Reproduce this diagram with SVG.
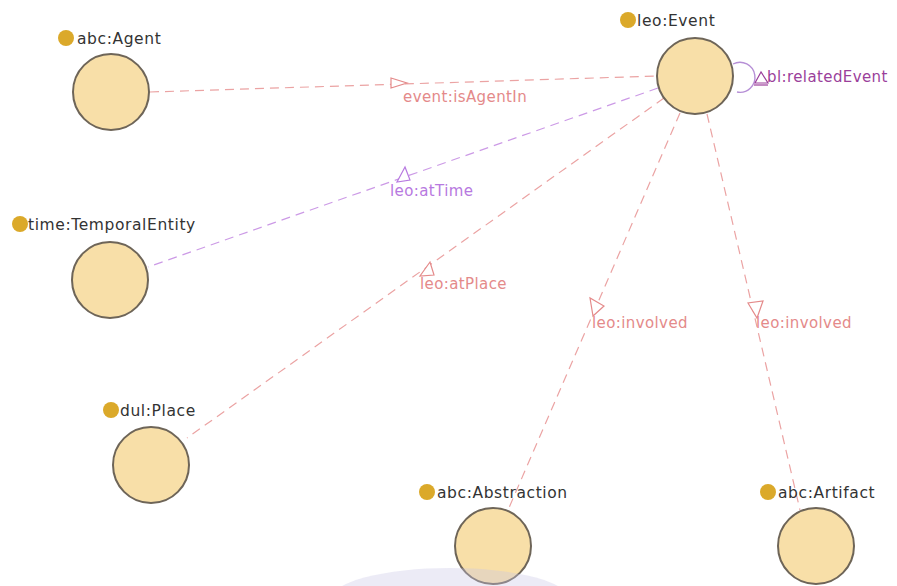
<svg xmlns="http://www.w3.org/2000/svg" width="897" height="586" viewBox="0 0 897 586">
<style>
.node{fill:#f8dfa8;stroke:#6e6558;stroke-width:2}
.dot{fill:#dba92a}
.nl{font-family:"DejaVu Sans","Liberation Sans",sans-serif;font-size:15.5px;letter-spacing:0.6px;fill:#333}
.e{fill:none;stroke:#eba3a3;stroke-width:1.2;stroke-dasharray:9 6}
.ep{fill:none;stroke:#cc9ae6;stroke-width:1.2;stroke-dasharray:9 6}
.el{font-family:"DejaVu Sans","Liberation Sans",sans-serif;font-size:15px;letter-spacing:0.4px;fill:#e48a8a}
.elp{font-family:"DejaVu Sans","Liberation Sans",sans-serif;font-size:15px;letter-spacing:0.4px;fill:#b779e0}
.arr{fill:#fff;stroke:#e48a8a;stroke-width:1.2}
.arrp{fill:#fff;stroke:#b779e0;stroke-width:1.2}
</style>
<rect width="897" height="586" fill="#fff"/>
<g id="connectors">
<line class="e" x1="150" y1="92" x2="657" y2="76"/>
<path class="arr" d="M391 78 L407 83 L391 88 Z"/>
<text class="el" x="403" y="102">event:isAgentIn</text>
<line class="ep" x1="658" y1="88" x2="148" y2="267"/>
<path class="arrp" d="M405 167 L397 182 L410 180 Z"/>
<text class="elp" x="390" y="196">leo:atTime</text>
<line class="e" x1="664" y1="98" x2="187" y2="438"/>
<path class="arr" d="M430 262 L420 276 L434 275 Z"/>
<text class="el" x="420" y="289">leo:atPlace</text>
<line class="e" x1="680" y1="113" x2="508" y2="510"/>
<path class="arr" d="M590 298 L593 316 L604 306 Z"/>
<text class="el" x="592" y="328">leo:involved</text>
<line class="e" x1="707" y1="114" x2="800" y2="510"/>
<path class="arr" d="M748 303 L757 318 L763 301 Z"/>
<text class="el" x="756" y="328">leo:involved</text>
<path d="M733 64 A15 15 0 1 1 737 92" fill="none" stroke="#b68fd6" stroke-width="1.4"/>
<path d="M761 72 L755 83 L768 83 Z" fill="#fff" stroke="#9b3f9b" stroke-width="1.2"/>
<line x1="754" y1="85" x2="768" y2="85" stroke="#9b3f9b" stroke-width="1.2"/>
<text x="767" y="82" font-family="DejaVu Sans, Liberation Sans, sans-serif" font-size="15" letter-spacing="0.4" fill="#9b3f9b">bl:relatedEvent</text>
</g>
<g id="abc-agent">
<circle class="node" cx="111" cy="92" r="38"/>
<circle class="dot" cx="66" cy="38" r="8"/>
<text class="nl" x="77" y="44">abc:Agent</text>
</g>
<g id="leo-event">
<circle class="node" cx="695" cy="76" r="38"/>
<circle class="dot" cx="628" cy="20" r="8"/>
<text class="nl" x="637" y="26">leo:Event</text>
</g>
<g id="time-temporalentity">
<circle class="node" cx="110" cy="280" r="38"/>
<circle class="dot" cx="20" cy="224" r="8"/>
<text class="nl" x="28" y="230">time:TemporalEntity</text>
</g>
<g id="dul-place">
<circle class="node" cx="151" cy="465" r="38"/>
<circle class="dot" cx="111" cy="410" r="8"/>
<text class="nl" x="120" y="416">dul:Place</text>
</g>
<g id="abc-abstraction">
<circle class="node" cx="493" cy="546" r="38"/>
<circle class="dot" cx="427" cy="492" r="8"/>
<text class="nl" x="437" y="498">abc:Abstraction</text>
</g>
<g id="abc-artifact">
<circle class="node" cx="816" cy="546" r="38"/>
<circle class="dot" cx="768" cy="492" r="8"/>
<text class="nl" x="778" y="498">abc:Artifact</text>
</g>
<ellipse cx="450" cy="600" rx="120" ry="32" fill="#c8c6e6" opacity="0.35"/>
</svg>
